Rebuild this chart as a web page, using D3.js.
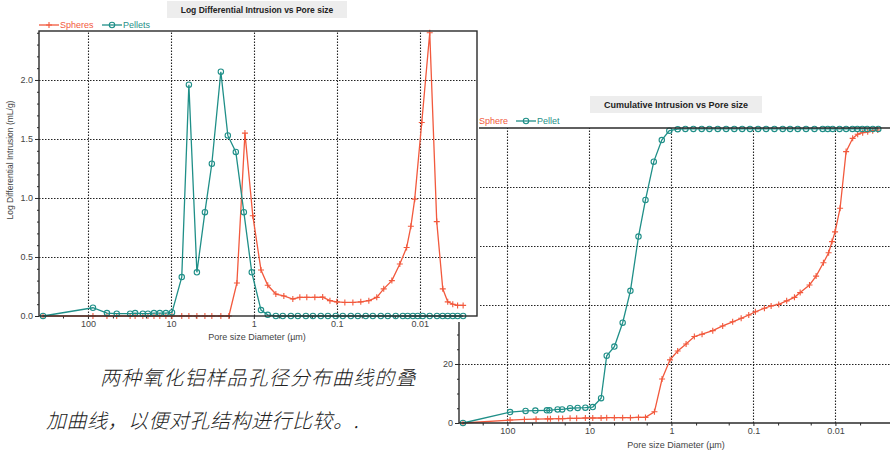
<!DOCTYPE html>
<html><head><meta charset="utf-8">
<script src="https://cdn.jsdelivr.net/npm/d3@7"></script>
<style>
html,body{margin:0;padding:0;background:#fff;}
svg{display:block;}
</style></head>
<body>
<svg id="c" width="890" height="453"></svg>
<script>
// ---------- DATA ----------
// Left chart: Log Differential Intrusion (mL/g) vs pore diameter (µm)
const pelletDiam = [348, 87, 59, 45, 31, 27, 21.8, 18.9, 16.0, 13.6, 11.5, 9.7,
  7.4, 6.07, 4.86, 3.89, 3.21, 2.50, 2.06, 1.65, 1.32, 1.06, 0.82, 0.68,
  0.543, 0.448, 0.358, 0.295, 0.236, 0.194, 0.156, 0.128, 0.103, 0.0847,
  0.0678, 0.0558, 0.0448, 0.0368, 0.0295, 0.0243, 0.0195, 0.0160, 0.0140, 0.0121,
  0.0106, 0.0092, 0.0076, 0.0062, 0.0053, 0.0046, 0.0040, 0.0035, 0.0030];
const pelletLogDiff = [0, 0.07, 0.025, 0.02, 0.02, 0.025, 0.02, 0.02, 0.025, 0.025, 0.025, 0.03,
  0.33, 1.96, 0.37, 0.88, 1.29, 2.07, 1.53, 1.39, 0.88, 0.37, 0.05, 0.01,
  0, 0, 0, 0, 0, 0, 0, 0, 0, 0,
  0, 0, 0, 0, 0, 0, 0, 0, 0, 0,
  0, 0, 0, 0, 0, 0, 0, 0, 0];
const sphereDiam = [348, 87, 59, 45, 31, 27, 21.8, 18.9, 16.0, 13.6, 11.5, 9.7,
  7.4, 6.07, 4.86, 3.89, 3.21, 2.50,
  2.0, 1.60, 1.28, 1.03, 0.82, 0.68, 0.543, 0.435, 0.339, 0.279,
  0.23, 0.184, 0.148, 0.121, 0.100, 0.080, 0.064, 0.0514, 0.0411, 0.033,
  0.0272, 0.0217, 0.0174, 0.0144, 0.0128, 0.0115, 0.00946, 0.00758, 0.00624, 0.00528,
  0.0046, 0.0040, 0.0035, 0.0030];
const sphereLogDiff = [0, 0, 0, 0, 0, 0, 0, 0, 0, 0, 0, 0,
  0, 0, 0, 0, 0, 0,
  0, 0.28, 1.55, 0.85, 0.39, 0.26, 0.186, 0.17, 0.144, 0.158,
  0.158, 0.158, 0.16, 0.13, 0.12, 0.115, 0.115, 0.12, 0.13, 0.158,
  0.23, 0.30, 0.44, 0.58, 0.76, 0.99, 1.64, 2.40, 0.80, 0.23,
  0.12, 0.10, 0.09, 0.09];

// Right chart: Cumulative Intrusion vs pore diameter (µm)
const pelletCumDiam = [348, 92.7, 60, 45.6, 33, 30.7, 24.4, 21.5, 17.2, 13.9,
  11.2, 9.1, 7.2, 6.15, 4.96, 3.93, 3.16, 2.52, 2.07, 1.64, 1.31, 1.06,
  0.838, 0.675, 0.539, 0.427, 0.344, 0.272, 0.215, 0.171, 0.137, 0.110,
  0.0877, 0.070, 0.0554, 0.0439, 0.0357, 0.0288, 0.0228, 0.0180, 0.0143, 0.0124,
  0.0108, 0.0089, 0.0074, 0.0062, 0.0054, 0.0047, 0.0041, 0.0035, 0.0030];
const pelletCum = [0, 3.7, 4.1, 4.2, 4.3, 4.3, 4.6, 4.6, 5.0, 5.1,
  5.2, 5.4, 8.4, 22.8, 25.9, 34, 44.8, 63.2, 75.6, 88.6, 95.9, 99.1,
  99.6, 99.7, 99.7, 99.7, 99.7, 99.7, 99.7, 99.7, 99.7, 99.7,
  99.7, 99.7, 99.7, 99.7, 99.7, 99.7, 99.7, 99.7, 99.7, 99.7,
  99.7, 99.7, 99.7, 99.7, 99.7, 99.7, 99.7, 99.7, 99.7];
const sphereCumDiam = [348, 92.7, 62, 44.7, 32.3, 29.9, 23.7, 21.2, 17.2, 14.3,
  11.2, 9.1, 7.2, 6.15, 4.96, 3.93, 3.16, 2.52, 2.07, 1.61,
  1.30, 1.04, 0.838, 0.662, 0.525, 0.423, 0.313, 0.237, 0.179, 0.141,
  0.114, 0.0946, 0.0734, 0.0608, 0.0491, 0.0393, 0.0316, 0.0269, 0.0207, 0.0172,
  0.0140, 0.0121, 0.0110, 0.0101, 0.00877, 0.00741, 0.00616, 0.00535, 0.00465, 0.00404,
  0.00351, 0.00305];
const sphereCum = [0, 1.0, 1.2, 1.3, 1.4, 1.4, 1.5, 1.5, 1.6, 1.6,
  1.7, 1.7, 1.7, 1.8, 1.8, 1.8, 1.8, 1.9, 1.9, 3.8,
  14.9, 21.4, 24.4, 26.8, 29.3, 30.1, 31.3, 32.9, 34.3, 35.5,
  36.6, 37.7, 38.9, 39.7, 40.2, 41.4, 42.6, 44.2, 46.8, 49.8,
  54.3, 57.7, 61.5, 64.8, 72.8, 92, 96.5, 97.9, 98.4, 98.7,
  99.1, 99.3];

const xMajorTicks = [100, 10, 1, 0.1, 0.01];
const xMinorTicks = [200, 50, 20, 5, 2, 0.5, 0.2, 0.05, 0.02, 0.005];
const xTickLabels = ["100", "10", "1", "0.1", "0.01"];
const leftYTicks = [0, 0.5, 1.0, 1.5, 2.0];
const leftYMinor = [0.1,0.2,0.3,0.4,0.6,0.7,0.8,0.9,1.1,1.2,1.3,1.4,1.6,1.7,1.8,1.9,2.1,2.2,2.3,2.4];
const rightYTicks = [0, 20, 40, 60, 80];
const rightYMinor = [5, 10, 15, 25, 30, 35, 45, 50, 55, 65, 70, 75, 85, 90, 95];

const leftTitle = "Log Differential Intrusion vs Pore size";
const rightTitle = "Cumulative Intrusion vs Pore size";
const xTitle = "Pore size Diameter (µm)";
const leftYTitle = "Log Differential Intrusion (mL/g)";
const leftLegend = ["Spheres", "Pellets"];
const rightLegend = ["Sphere", "Pellet"];
const caption = ["两种氧化铝样品孔径分布曲线的叠", "加曲线，以便对孔结构进行比较。."];

// ---------- STYLE ----------
const RED = "#f2593d", TEAL = "#1f8f88", INK = "#2a2a2a";
const FONT = "'Liberation Sans', Arial, sans-serif";
const svg = d3.select("#c");

const xDomain = [Math.pow(10, 2.59), Math.pow(10, -2.69)];

function drawChart(g, cfg) {
  const x = d3.scaleLog().domain(xDomain).range([cfg.x0, cfg.x1]);
  const y = d3.scaleLinear().domain(cfg.yDomain).range([cfg.y0, cfg.y1]);
  // grid
  const grid = g.append("g").attr("stroke", "#222").attr("stroke-width", 1.1)
    .attr("stroke-dasharray", "1.5,1.5");
  grid.selectAll(".vx").data(xMajorTicks).join("line")
    .attr("x1", d => Math.round(x(d)) + 0.5).attr("x2", d => Math.round(x(d)) + 0.5)
    .attr("y1", cfg.y0).attr("y2", cfg.y1);
  grid.selectAll(".hy").data(cfg.yGrid).join("line")
    .attr("x1", cfg.x0).attr("x2", cfg.x1)
    .attr("y1", d => Math.round(y(d)) + 0.5).attr("y2", d => Math.round(y(d)) + 0.5);

  // x axis
  const xAxis = d3.axisBottom(x).tickValues(xMajorTicks).tickSize(3).tickPadding(2)
    .tickFormat((d, i) => xTickLabels[i]);
  const gx = g.append("g").attr("transform", `translate(0,${cfg.y0})`).call(xAxis);
  const xAxisMinor = d3.axisBottom(x).tickValues(xMinorTicks).tickSize(2.5).tickFormat("");
  const gxm = g.append("g").attr("transform", `translate(0,${cfg.y0})`).call(xAxisMinor);
  // y axis
  const yAxis = d3.axisLeft(y).tickValues(cfg.yTicks).tickSize(4).tickPadding(2)
    .tickFormat(cfg.yFmt);
  const gy = g.append("g").attr("transform", `translate(${cfg.x0},0)`).call(yAxis);
  const yAxisMinor = d3.axisLeft(y).tickValues(cfg.yMinor).tickSize(2).tickFormat("");
  const gym = g.append("g").attr("transform", `translate(${cfg.x0},0)`).call(yAxisMinor);
  [gx, gxm, gy, gym].forEach(a => {
    a.select(".domain").remove();
    a.selectAll("line").attr("stroke", INK);
    a.selectAll("text").attr("font-family", FONT).attr("font-size", 9).attr("fill", "#444");
  });

  // series
  cfg.series.forEach(s => {
    const pts = s.d.map((d, i) => [x(d), y(s.v[i])]);
    g.append("path").attr("d", d3.line()(pts)).attr("fill", "none")
      .attr("stroke", s.color).attr("stroke-width", 1.3);
    const mk = g.append("g");
    pts.forEach(p => {
      if (s.marker === "circle") {
        mk.append("circle").attr("cx", p[0]).attr("cy", p[1]).attr("r", 2.7)
          .attr("fill", "none").attr("stroke", s.color).attr("stroke-width", 1.1);
      } else {
        mk.append("path").attr("d", `M${p[0]-3},${p[1]}H${p[0]+3}M${p[0]},${p[1]-3}V${p[1]+3}`)
          .attr("stroke", s.color).attr("stroke-width", 1.1);
      }
    });
  });
  return {x, y};
}

function title(g, text, cx, cy, fs, w) {
  g.append("rect").attr("x", cx - w / 2).attr("y", cy - 9).attr("width", w).attr("height", 17)
    .attr("fill", "#ededed");
  g.append("text").attr("x", cx).attr("y", cy + 3).attr("text-anchor", "middle")
    .attr("font-family", FONT).attr("font-weight", "bold").attr("font-size", fs)
    .attr("fill", "#222").text(text);
}

function legendItem(g, lx, ly, color, marker, label) {
  g.append("line").attr("x1", lx).attr("x2", lx + 20).attr("y1", ly).attr("y2", ly)
    .attr("stroke", color).attr("stroke-width", 1.3);
  const cx = lx + 10;
  if (marker === "circle") {
    g.append("circle").attr("cx", cx).attr("cy", ly).attr("r", 2.7).attr("fill", "none")
      .attr("stroke", color).attr("stroke-width", 1.1);
  } else {
    g.append("path").attr("d", `M${cx-3},${ly}H${cx+3}M${cx},${ly-3}V${ly+3}`)
      .attr("stroke", color).attr("stroke-width", 1.1);
  }
  g.append("text").attr("x", lx + 21).attr("y", ly + 3.2).attr("font-family", FONT)
    .attr("font-size", 9).attr("fill", color).text(label);
}

// ---------- RIGHT CHART (behind) ----------
const gR = svg.append("g");
drawChart(gR, {
  x0: 459, x1: 892, y0: 423, y1: 128, yDomain: [0, 100],
  yTicks: rightYTicks, yMinor: rightYMinor, yGrid: [20, 40, 60, 80],
  yFmt: d3.format("d"),
  series: [
    {d: sphereCumDiam, v: sphereCum, color: RED, marker: "plus"},
    {d: pelletCumDiam, v: pelletCum, color: TEAL, marker: "circle"}
  ]
});
gR.append("line").attr("x1", 459).attr("x2", 459).attr("y1", 128).attr("y2", 423)
  .attr("stroke", INK).attr("stroke-width", 1.4);
gR.append("line").attr("x1", 459).attr("x2", 892).attr("y1", 423).attr("y2", 423)
  .attr("stroke", INK).attr("stroke-width", 1.4);
gR.append("line").attr("x1", 459).attr("x2", 892).attr("y1", 128).attr("y2", 128)
  .attr("stroke", INK).attr("stroke-width", 1.6);
title(gR, rightTitle, 676, 105, 9, 172);
legendItem(gR, 458, 121, RED, "plus", rightLegend[0]);
legendItem(gR, 516, 121, TEAL, "circle", rightLegend[1]);
gR.append("text").attr("x", 676).attr("y", 448).attr("text-anchor", "middle")
  .attr("font-family", FONT).attr("font-size", 9).attr("fill", "#444").text(xTitle);

// ---------- LEFT CHART (front) ----------
svg.append("rect").attr("x", 0).attr("y", 0).attr("width", 479).attr("height", 322).attr("fill", "#fff");
const gL = svg.append("g");
drawChart(gL, {
  x0: 39, x1: 477, y0: 316, y1: 31, yDomain: [0, 2.415],
  yTicks: leftYTicks, yMinor: leftYMinor, yGrid: [0.5, 1.0, 1.5, 2.0],
  yFmt: d3.format(".1f"),
  series: [
    {d: sphereDiam, v: sphereLogDiff, color: RED, marker: "plus"},
    {d: pelletDiam, v: pelletLogDiff, color: TEAL, marker: "circle"}
  ]
});
gL.append("rect").attr("x", 39).attr("y", 31).attr("width", 438).attr("height", 285)
  .attr("fill", "none").attr("stroke", INK).attr("stroke-width", 1.4);
title(gL, leftTitle, 257, 10, 8.5, 180);
legendItem(gL, 39, 25, RED, "plus", leftLegend[0]);
legendItem(gL, 102, 25, TEAL, "circle", leftLegend[1]);
gL.append("text").attr("x", 257).attr("y", 340).attr("text-anchor", "middle")
  .attr("font-family", FONT).attr("font-size", 9).attr("fill", "#444").text(xTitle);
gL.append("text").attr("transform", "translate(13,160) rotate(-90)").attr("text-anchor", "middle")
  .attr("font-family", FONT).attr("font-size", 8.5).attr("fill", "#444").text(leftYTitle);

// ---------- CAPTION ----------
const cap = svg.append("g").attr("font-family", "'Noto Sans CJK SC', sans-serif")
  .attr("font-size", 20).attr("font-style", "italic").attr("font-weight", 300).attr("fill", "#222")
  .attr("letter-spacing", "1.1px");
cap.append("text").attr("x", 100).attr("y", 385).text(caption[0]);
cap.append("text").attr("x", 46).attr("y", 428).attr("letter-spacing", "0.5px").text(caption[1]);
</script>
</body></html>
